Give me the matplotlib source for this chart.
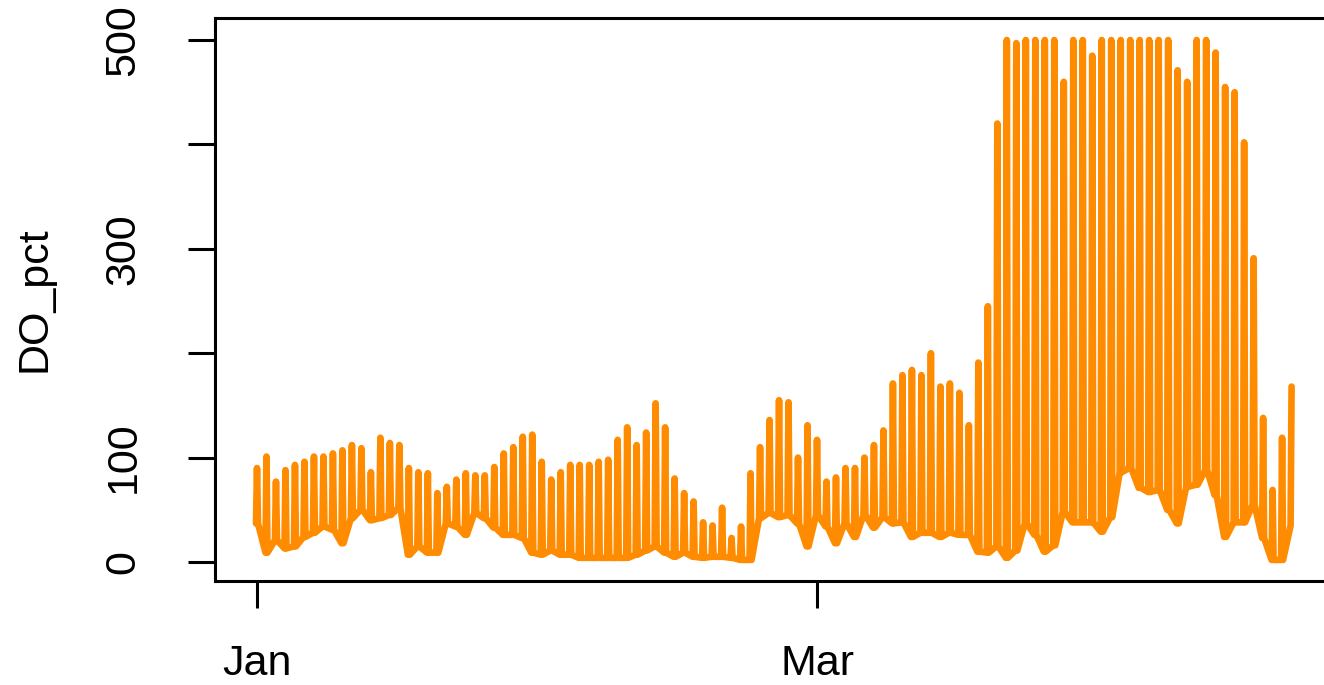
import numpy as np
import matplotlib as mpl
mpl.use("Agg")
import matplotlib.pyplot as plt
import matplotlib.dates as mdates

plt.rcParams['font.family'] = ['Liberation Sans', 'DejaVu Sans']

# daily extremes of dissolved oxygen (% saturation), one value per day from Jan 1
day_max = [90, 101, 77, 88, 93, 96, 101, 101, 104, 107,
           112, 109, 86, 119, 114, 112, 90, 86, 85, 66,
           72, 79, 85, 83, 83, 91, 104, 110, 120, 122,
           96, 79, 86, 93, 93, 93, 96, 98, 117, 129,
           112, 124, 152, 129, 80, 66, 58, 38, 35, 52,
           23, 34, 85, 110, 136, 155, 153, 100, 131, 117,
           77, 81, 90, 90, 100, 112, 126, 171, 179, 184,
           179, 200, 168, 171, 162, 131, 191, 245, 420, 500,
           497, 500, 500, 500, 500, 460, 500, 500, 485, 500,
           500, 500, 500, 500, 500, 500, 500, 471, 460, 500,
           500, 488, 455, 450, 402, 291, 138, 69, 119, 168]
day_min = [37, 9, 21, 13, 15, 24, 28, 34, 31, 18,
           42, 50, 40, 42, 45, 52, 7, 15, 9, 9,
           37, 34, 26, 47, 42, 33, 26, 26, 23, 9,
           7, 11, 7, 7, 4, 4, 4, 4, 4, 4,
           7, 11, 15, 9, 5, 9, 5, 4, 5, 5,
           4, 2, 2, 42, 47, 43, 45, 37, 15, 45,
           34, 18, 37, 24, 45, 33, 43, 37, 38, 24,
           28, 28, 24, 28, 26, 26, 10, 9, 15, 4,
           11, 37, 26, 10, 16, 48, 38, 38, 38, 29,
           43, 86, 90, 71, 67, 69, 50, 37, 72, 74,
           88, 64, 24, 38, 38, 55, 23, 2, 2, 35]

start = np.datetime64('2018-01-01T00:00')

# each day: low before dawn, afternoon peak, low again at night
t, v = [], []
for d, (lo, hi) in enumerate(zip(day_min, day_max)):
    base = start + np.timedelta64(d * 24 * 60, 'm')
    t += [base - np.timedelta64(150, 'm'), base, base + np.timedelta64(150, 'm')]
    v += [lo, hi, lo]
t = np.array(t[:-1])
v = np.array(v[:-1])

fig = plt.figure(figsize=(13.24, 6.85), dpi=100)
ax = fig.add_axes([215/1324, 104/685, 1115/1324, 563/685])

ax.plot(t, v, color='#FF8C00', linewidth=4.8, solid_joinstyle='round',
        solid_capstyle='round')

px_day = 560 / 59.0
ax.set_xlim(start - np.timedelta64(int(42 / px_day * 1440), 'm'),
            start + np.timedelta64(int((1330 - 257) / px_day * 1440), 'm'))
ax.set_ylim(-18.2, 521.1)

ax.xaxis.set_major_locator(mdates.MonthLocator(bymonth=[1, 3]))
ax.xaxis.set_major_formatter(mdates.DateFormatter('%b'))
ax.set_yticks([0, 100, 200, 300, 400, 500])
ax.set_yticklabels(['0', '100', '', '300', '', '500'], rotation=90, va='center')

for s in ax.spines.values():
    s.set_linewidth(2.2)
ax.tick_params(axis='both', length=19.5, width=2.2, labelsize=31)
ax.tick_params(axis='y', pad=32)
ax.tick_params(axis='x', pad=26)

ax.set_ylabel('DO_pct', fontsize=31, labelpad=35)

plt.savefig('out.png', dpi=100)
